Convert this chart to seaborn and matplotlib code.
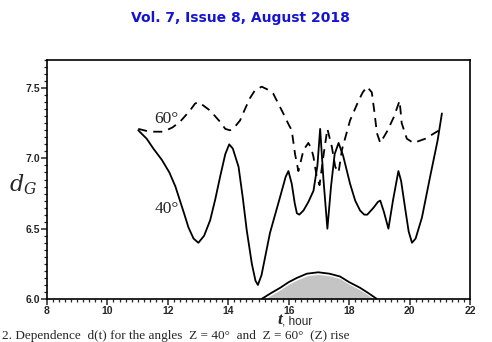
import numpy as np
import pandas as pd
import matplotlib
matplotlib.use("Agg")
import matplotlib.pyplot as plt
import seaborn as sns
from matplotlib.ticker import MultipleLocator

# curve for Z = 40 deg (solid)
t_40 = [11.02, 11.30, 11.52, 11.80, 12.05, 12.25, 12.40, 12.55, 12.68, 12.85,
        13.01, 13.20, 13.40, 13.57, 13.73, 13.90, 14.03, 14.15, 14.34, 14.48,
        14.61, 14.78, 14.90, 14.98, 15.10, 15.38, 15.72, 15.90, 15.99, 16.10,
        16.20, 16.27, 16.35, 16.49, 16.65, 16.82, 16.95, 17.04, 17.15, 17.28,
        17.40, 17.52, 17.65, 17.80, 18.03, 18.20, 18.36, 18.50, 18.60, 18.81,
        18.95, 19.03, 19.15, 19.30, 19.45, 19.63, 19.72, 19.85, 19.97, 20.08,
        20.20, 20.41, 20.68, 20.93, 21.07]
d_40 = [7.20, 7.14, 7.07, 6.99, 6.90, 6.80, 6.70, 6.60, 6.51, 6.43,
        6.40, 6.45, 6.56, 6.71, 6.87, 7.03, 7.10, 7.07, 6.94, 6.72,
        6.49, 6.25, 6.13, 6.10, 6.17, 6.47, 6.73, 6.87, 6.91, 6.82,
        6.68, 6.61, 6.60, 6.63, 6.69, 6.77, 6.95, 7.21, 6.85, 6.50,
        6.80, 7.03, 7.11, 7.02, 6.82, 6.70, 6.63, 6.60, 6.60, 6.65,
        6.69, 6.70, 6.62, 6.50, 6.70, 6.91, 6.84, 6.65, 6.48, 6.40,
        6.43, 6.58, 6.87, 7.13, 7.32]

# curve for Z = 60 deg (dashed)
t_60 = [11.02, 11.40, 11.85, 12.15, 12.40, 12.73, 12.90, 13.01, 13.15, 13.40,
        13.73, 13.90, 14.06, 14.20, 14.39, 14.55, 14.72, 14.90, 15.11, 15.30,
        15.49, 15.82, 16.00, 16.10, 16.21, 16.32, 16.40, 16.49, 16.65, 16.75,
        16.82, 16.92, 17.02, 17.15, 17.28, 17.43, 17.54, 17.65, 17.76, 18.03,
        18.31, 18.45, 18.59, 18.75, 18.83, 18.92, 19.03, 19.25, 19.47, 19.67,
        19.74, 19.91, 20.13, 20.52, 20.90, 21.07]
d_60 = [7.21, 7.19, 7.19, 7.22, 7.26, 7.34, 7.39, 7.40, 7.38, 7.34,
        7.26, 7.21, 7.20, 7.22, 7.27, 7.35, 7.43, 7.49, 7.51, 7.49,
        7.46, 7.32, 7.24, 7.20, 7.03, 6.91, 6.98, 7.06, 7.11, 7.07,
        7.01, 6.88, 6.81, 7.02, 7.21, 7.08, 6.94, 6.90, 7.06, 7.27,
        7.41, 7.47, 7.51, 7.47, 7.34, 7.18, 7.11, 7.19, 7.29, 7.41,
        7.25, 7.14, 7.11, 7.14, 7.19, 7.21]

# grey hump at the bottom
t_hump = [15.10, 15.40, 15.72, 16.00, 16.27, 16.60, 16.98, 17.35, 17.70,
          18.00, 18.36, 18.65, 18.92]
d_hump = [6.00, 6.04, 6.08, 6.12, 6.15, 6.18, 6.19, 6.18, 6.16,
          6.12, 6.08, 6.04, 6.00]

df40 = pd.DataFrame({"t": t_40, "d": d_40})
df60 = pd.DataFrame({"t": t_60, "d": d_60})
dfh = pd.DataFrame({"t": t_hump, "d": d_hump})

sns.set_style("white")
fig = plt.figure(figsize=(4.92, 3.42), dpi=100)
ax = fig.add_axes([47 / 492, 1 - 299 / 342, 423 / 492, 239 / 342])

sns.lineplot(ax=ax, data=df40, x="t", y="d", sort=False, estimator=None,
             color="k", lw=1.3)
sns.lineplot(ax=ax, data=df60, x="t", y="d", sort=False, estimator=None,
             color="k", lw=1.3, linestyle=(0, (5, 3.5)))
ax.fill_between(dfh["t"], 6.0, dfh["d"] - 0.015, color="#c4c4c4", lw=0)
sns.lineplot(ax=ax, data=dfh, x="t", y="d", sort=False, estimator=None,
             color="k", lw=1.3)

ax.set_xlim(8, 22)
ax.set_ylim(6.0, 7.7)
ax.xaxis.set_major_locator(MultipleLocator(2))
ax.xaxis.set_minor_locator(MultipleLocator(0.2))
ax.yaxis.set_major_locator(MultipleLocator(0.5))
ax.yaxis.set_minor_locator(MultipleLocator(0.05))
ax.yaxis.set_major_formatter(matplotlib.ticker.FormatStrFormatter("%.1f"))
ax.tick_params(which="major", direction="out", length=4.5, width=1.1,
               bottom=True, left=True, labelsize=7.5, pad=0.5)
ax.tick_params(which="minor", direction="out", length=2.5, width=0.9,
               bottom=True, left=True)
for lab in ax.get_xticklabels() + ax.get_yticklabels():
    lab.set_fontweight("bold")
    lab.set_family("Liberation Sans")
for s in ax.spines.values():
    s.set_color("k")
    s.set_linewidth(1.2)

ax.set_xlabel("")
ax.set_ylabel("")
fig.text(9 / 492, 1 - 185 / 342, r"$d_G$", fontsize=16,
         math_fontfamily="dejavuserif", va="center")
fig.text(282 / 492, 1 - 320 / 342, "t", fontsize=12.5, family="Liberation Serif",
         style="italic", fontweight="bold", ha="right", va="center")
fig.text(282 / 492, 1 - 321 / 342, ", hour", fontsize=8.5, family="Liberation Sans",
         ha="left", va="center")

ax.text(11.95, 7.28, "60°", fontsize=12.5, family="Liberation Serif", ha="center", va="center")
ax.text(11.95, 6.64, "40°", fontsize=12.5, family="Liberation Serif", ha="center", va="center")

fig.text(240 / 492, 1 - 18 / 342, "Vol. 7, Issue 8, August 2018", color="#1414d2",
         fontsize=10, fontweight="bold", family="DejaVu Sans", ha="center", va="center")
fig.text(0.004, 0.01, "2. Dependence  d(t) for the angles  Z = 40°  and  Z = 60°  (Z) rise",
         fontsize=9.5, family="Liberation Serif", ha="left", va="baseline")

fig.savefig("out.png", dpi=100, facecolor="white")
